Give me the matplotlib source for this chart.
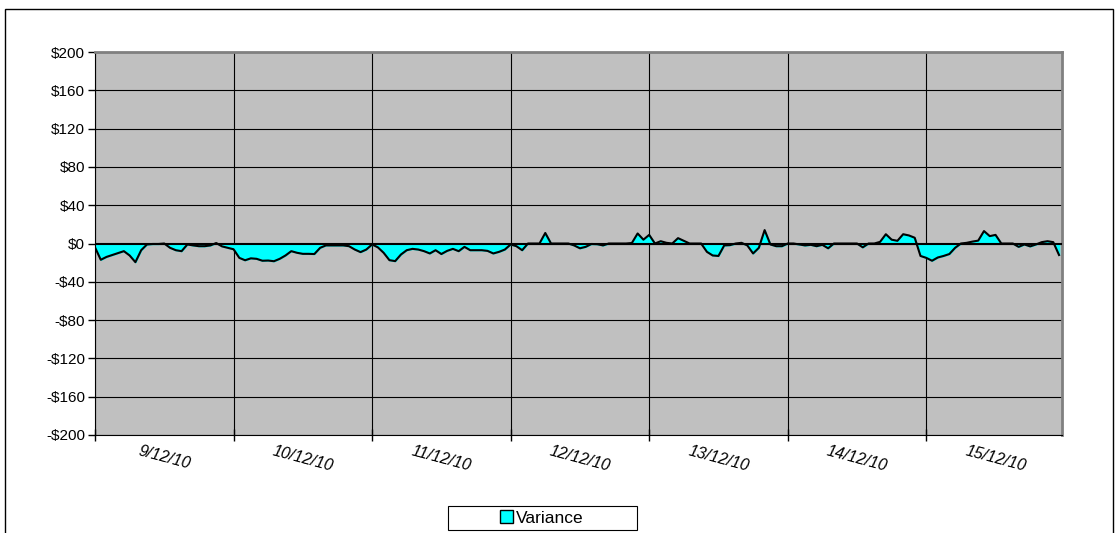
import numpy as np
import matplotlib.pyplot as plt
from matplotlib.patches import Rectangle

plt.rcParams['font.family'] = ['Liberation Sans', 'DejaVu Sans']

# hourly variance ($), one list per day
day1 = [-4, -17, -14, -12, -10, -8, -12.5, -19.5, -7, -1, -0.5, -0.5,
        0, -4.5, -7, -8, -1, -2, -2.8, -2.8, -2, 0.5, -3, -4.5]
day2 = [-6, -15, -17.5, -15.5, -16, -18, -17.8, -18.5, -16, -12.5, -8, -9.7,
        -10.8, -10.8, -11, -4.5, -2, -2, -2, -2, -2.8, -6.3, -9, -6.3]
day3 = [-1, -4, -9.7, -17.4, -18.4, -11.5, -7, -5.6, -6.3, -8, -10.4, -7,
        -11, -7.7, -5.6, -8, -3.5, -7, -7, -7, -7.7, -10.4, -8.7, -6.3]
day4 = [-1, -2.8, -7, 0, 0, 0, 11, 0, 0, 0, 0, -2,
        -5, -3.5, -0.5, -0.7, -2, 0, 0, 0, 0, 0.5, 10.5, 4]
day5 = [9, 0, 2.4, 0.7, 0, 5.6, 2.8, 0, 0, 0, -8.7, -12.5,
        -13, -2, -1.7, 0, 0.7, -2, -10.4, -4.5, 14, -1, -2.8, -2.8]
day6 = [0, 0, -1, -2, -1.4, -2.8, -1.4, -5, 0, 0, 0, 0,
        0, -4, 0, 0, 1.7, 9.7, 4, 2.8, 9.7, 8.4, 6, -13]
day7 = [-15, -18, -14.6, -13, -11, -4.5, 0, 0.7, 2, 3, 13, 7.7,
        9, 0, 0, 0, -3.5, -1, -3, -1, 1.4, 2.4, 1.4, -12]

day_labels = ['9/12/10', '10/12/10', '11/12/10', '12/12/10',
              '13/12/10', '14/12/10', '15/12/10']

variance = np.array(day1 + day2 + day3 + day4 + day5 + day6 + day7)
t = np.arange(len(variance)) / 24.0  # time in days

fig = plt.figure(figsize=(11.15, 5.33), dpi=100)
ax = fig.add_axes([0.0852, 0.1839, 0.8673, 0.7185])
ax.set_facecolor('#C0C0C0')

ax.fill_between(t, 0, variance, color='#00FFFF', zorder=2)
ax.plot(t, variance, color='black', linewidth=1.5, zorder=3)
ax.axhline(0, color='black', linewidth=1.5, zorder=3)

ax.set_ylim(-200, 200)
ax.set_xlim(0, 6.98)
yt = np.arange(-200, 201, 40)
ax.set_yticks(yt)
ax.set_yticklabels([('-$%d' % -v) if v < 0 else ('$%d' % v) for v in yt], fontsize=11)
ax.set_xticks(np.arange(0, 7))
ax.set_xticklabels([])
ax.set_xticks(np.arange(7) + 0.5, minor=True)
ax.set_xticklabels(day_labels, minor=True, rotation=-15, fontsize=11.5,
                   style='italic', ha='center')
ax.tick_params(axis='x', which='minor', length=0, pad=6)
ax.tick_params(axis='x', which='major', direction='inout', length=8, width=1)
ax.tick_params(axis='y', direction='out', length=5, width=1, pad=2)

ax.grid(True, which='major', color='black', linewidth=0.8, zorder=1)
ax.set_axisbelow(True)
for side in ['left', 'bottom']:
    ax.spines[side].set_color('black')
for side in ['right', 'top']:
    ax.spines[side].set_color('#808080')
    ax.spines[side].set_linewidth(2)

# legend: frame drawn separately so it can be as wide as the original
fig.patches.append(Rectangle((448 / 1115, 3 / 533), 189 / 1115, 24 / 533,
                             transform=fig.transFigure, facecolor='white',
                             edgecolor='black', linewidth=0.8))
fig.legend(handles=[Rectangle((0, 0), 1, 1, facecolor='#00FFFF', edgecolor='black')],
           labels=['Variance'], loc='center', bbox_to_anchor=(542 / 1115, 15 / 533),
           frameon=False, fontsize=12.5, handlelength=0.7, handleheight=0.7,
           handletextpad=0.2, borderpad=0.2)

# outer chart border
fig.patches.append(Rectangle((5 / 1115, -0.05), 1108 / 1115, 1 - 9 / 533 + 0.05,
                             transform=fig.transFigure, fill=False,
                             edgecolor='black', linewidth=1))

fig.savefig('out.png', dpi=100)
